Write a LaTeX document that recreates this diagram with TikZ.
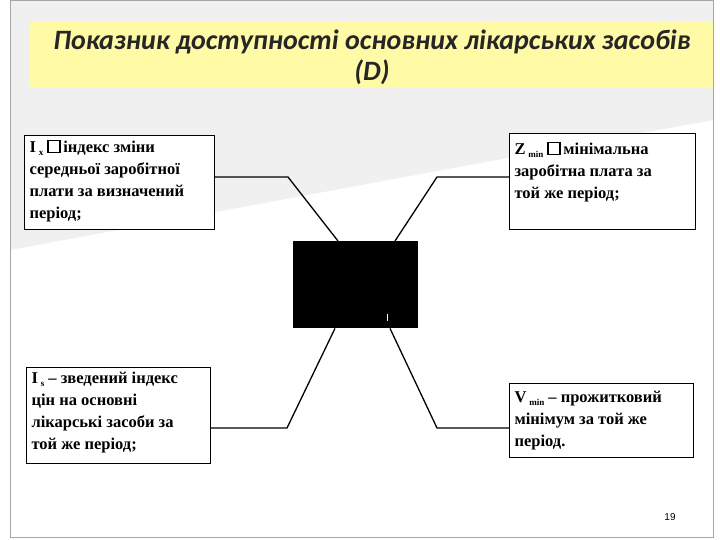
\documentclass[tikz,border=0pt]{standalone}
\usepackage{fontspec}
\setmainfont{Liberation Serif}
\newfontfamily\titlefont{Carlito}
\newfontfamily\numfont{Liberation Sans}
\newcommand{\sqbox}{\tikz[baseline=0pt]\draw[line width=1.2pt,x=1pt,y=1pt] (0,0) rectangle (12,12);\,}
\newcommand{\bx}[3]{\parbox[t][#2][t]{#1}{\raggedright #3}}
\newcommand{\sbs}[1]{\raisebox{-3pt}{\fontsize{9}{9}\selectfont #1}}
\begin{document}
\begin{tikzpicture}[x=1pt,y=-1pt,
  box/.style={draw,line width=1.2pt,fill=white,inner xsep=5pt,inner ysep=2pt,anchor=north west,font=\bfseries\fontsize{16.5}{22}\selectfont},
  conn/.style={line width=1.3pt}]
\useasboundingbox (0,0) rectangle (720,540);
\fill[white] (0,0) rectangle (720,540);
\fill[gray!12] (10,0) -- (713,0) -- (713,120) -- (10,250) -- cycle;
\draw[gray!70,line width=1pt] (10,1) rectangle (713,537);
\node[fill=yellow!35,minimum width=683pt,minimum height=65pt,anchor=north west,inner sep=0pt] (title) at (30,22) {};
\node[align=center,font=\titlefont\bfseries\itshape\fontsize{28}{31}\selectfont,text=black!85] (tt) at (372,57)
  {Показник доступності основних лікарських засобів\\(D)};
\node[box] (tl) at (24,135) {\bx{180pt}{90pt}{\vspace*{2pt}I\,\sbs{x} \sqbox індекс зміни\\середньої заробітної\\плати за визначений\\період;}};
\node[box] (tr) at (509,133) {\bx{176pt}{92pt}{\vspace*{6pt}Z\,\sbs{min} \sqbox мінімальна\\заробітна плата за\\той же період;}};
\node[box] (bl) at (26,367) {\bx{174pt}{92pt}{\vspace*{2pt}I\,\sbs{s} -- зведений індекс\\цін на основні\\лікарські засоби за\\той же період;}};
\node[box] (br) at (509,383) {\bx{174pt}{70pt}{\vspace*{6pt}V\,\sbs{min} -- прожитковий\\мінімум за той же\\період.}};
\node[fill=black,minimum width=125pt,minimum height=87pt,anchor=north west,inner sep=0pt] (c) at (293,241) {};
\draw[white,line width=1pt] (387,314) -- (387,321);
\coordinate (a1) at (288,177); \coordinate (a2) at (437,177);
\coordinate (b1) at (287,428); \coordinate (b2) at (437,428);
\draw[conn] (tl.east |- a1) -- (a1) -- (c.north west -| 338,0) ;
\draw[conn] (tr.west |- a2) -- (a2) -- (c.north west -| 395,0);
\draw[conn] (bl.east |- b1) -- (b1) -- (c.south west -| 335,0);
\draw[conn] (br.west |- b2) -- (b2) -- (c.south west -| 390,0);
\node[font=\numfont\fontsize{10}{12}\selectfont] (pg) at (670,517) {19};
\end{tikzpicture}
\end{document}
